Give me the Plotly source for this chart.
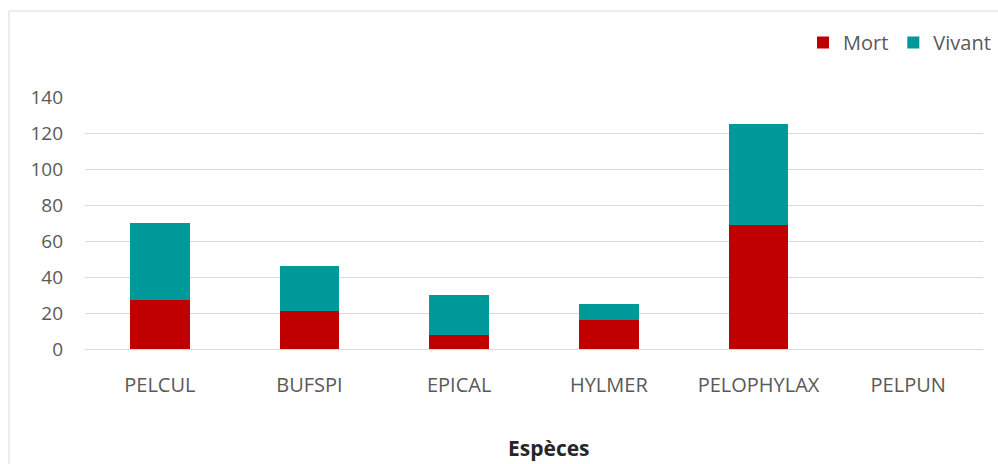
import plotly.graph_objects as go

# Species codes and counts per status
especes = ["PELCUL", "BUFSPI", "EPICAL", "HYLMER", "PELOPHYLAX", "PELPUN"]
mort = [27, 21, 8, 16, 69, 0]
vivant = [43, 25, 22, 9, 56, 0]
y_ticks = [0, 20, 40, 60, 80, 100, 120, 140]

W, H = 998, 464
ML, MR, MT, MB = 85, 15, 97, 115
PW, PH = W - ML - MR, H - MT - MB

def px_x(p):
    return (p - ML) / PW

def px_y(p):
    return (H - MB - p) / PH

FONT = "Open Sans"
GREY = "#595959"

fig = go.Figure()
fig.add_trace(go.Bar(name="Mort", x=especes, y=mort, marker_color="#C00000",
                     marker_line_width=0))
fig.add_trace(go.Bar(name="Vivant", x=especes, y=vivant, marker_color="#009999",
                     marker_line_width=0))

fig.update_layout(
    width=W, height=H,
    margin=dict(l=ML, r=MR, t=MT, b=MB, autoexpand=False),
    barmode="stack", bargap=0.6,
    plot_bgcolor="white", paper_bgcolor="white",
    font=dict(family=FONT, size=19, color=GREY),
    showlegend=True,
    legend=dict(orientation="h", x=px_x(996), xanchor="right",
                y=px_y(23), yanchor="top", traceorder="normal",
                font=dict(family=FONT, size=20, color=GREY),
                itemwidth=30, bgcolor="rgba(0,0,0,0)"),
    xaxis=dict(showgrid=False, showline=False, zeroline=False,
               ticks="", ticklabelstandoff=22,
               tickfont=dict(family=FONT, size=20, color=GREY)),
    yaxis=dict(range=[0, 140], tickvals=y_ticks, showgrid=True,
               gridcolor="#D9D9D9", gridwidth=1, zeroline=True,
               zerolinecolor="#D9D9D9", zerolinewidth=1, showline=False,
               ticks="", ticklabelstandoff=21,
               tickfont=dict(family=FONT, size=19, color=GREY)),
    shapes=[dict(type="rect", xref="paper", yref="paper",
                 x0=px_x(9), x1=px_x(1010), y0=px_y(480), y1=px_y(11),
                 line=dict(color="#D9D9D9", width=1), layer="below")],
    annotations=[dict(text="<b>Espèces</b>", xref="paper", yref="paper",
                      x=px_x(549), y=px_y(448), xanchor="center", yanchor="middle",
                      showarrow=False,
                      font=dict(family=FONT, size=21, color="#262626"))],
)

fig.write_html("out.html")
